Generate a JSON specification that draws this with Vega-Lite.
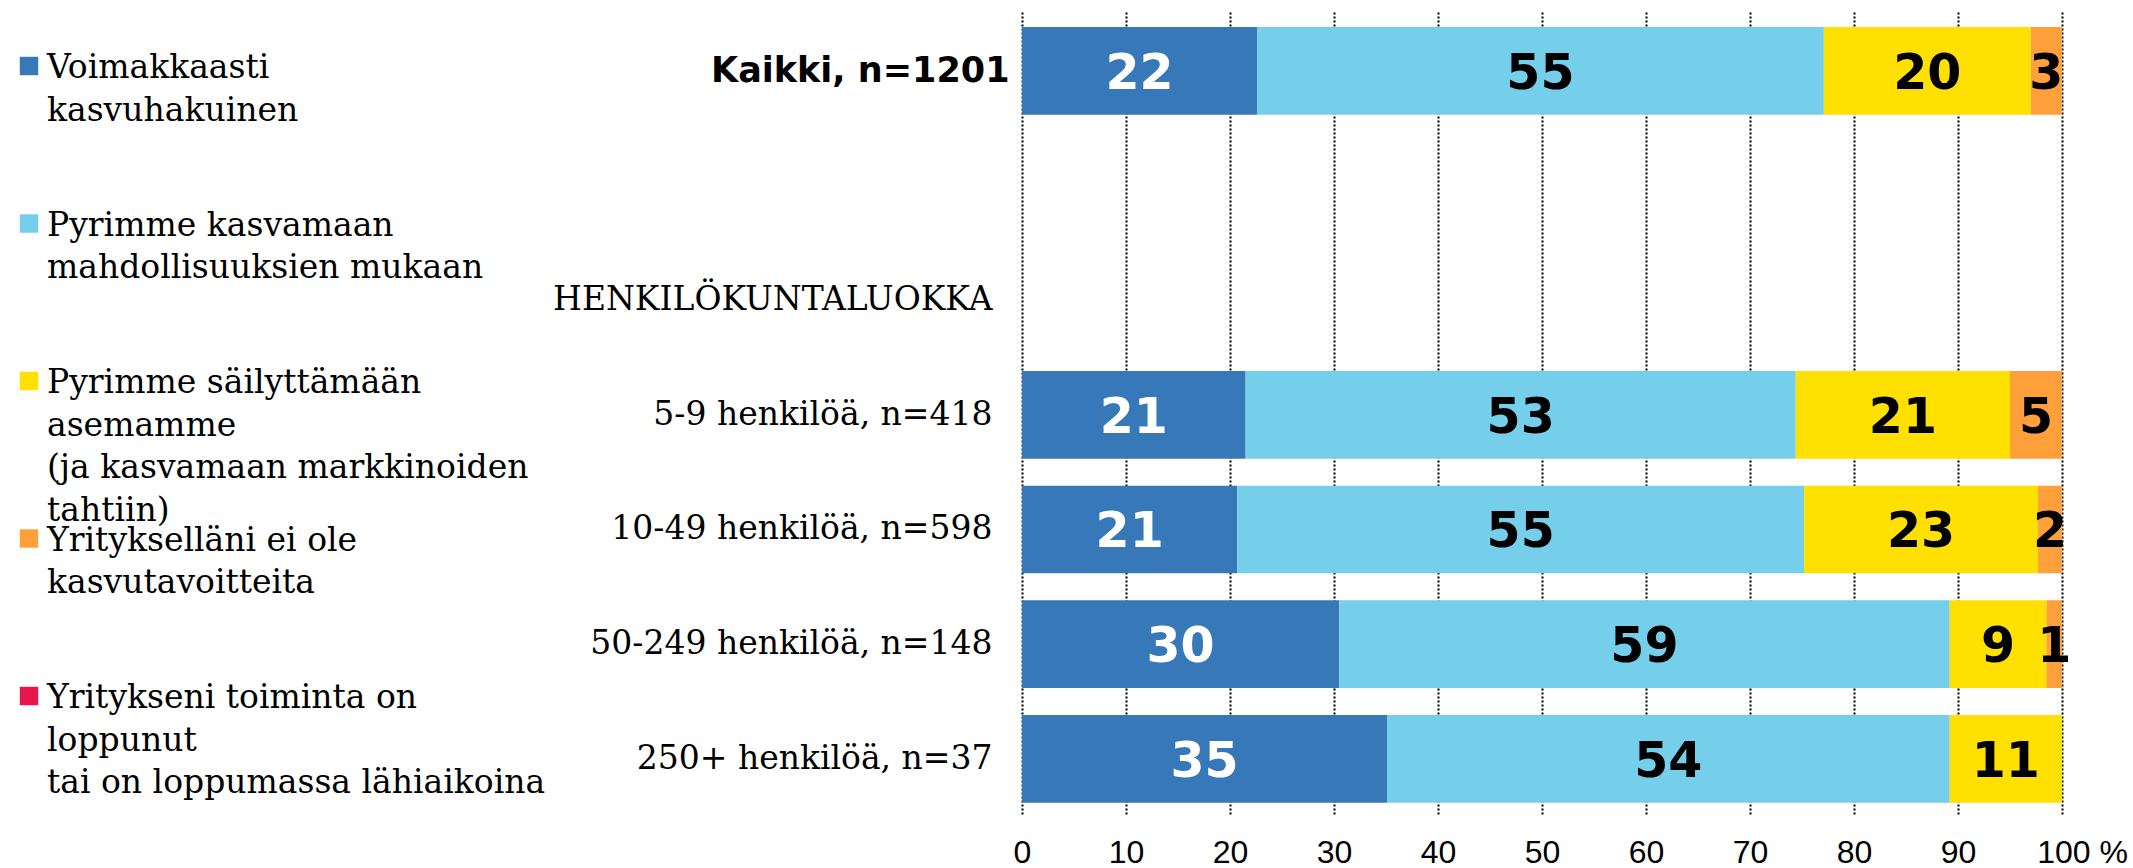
{
  "$schema": "https://vega.github.io/schema/vega-lite/v6.json",
  "padding": {"left": 0, "top": 12, "right": 0, "bottom": 0},
  "background": "white",
  "config": {"view": {"stroke": null}},
  "bounds": "flush",
  "spacing": 964,
  "resolve": {"scale": {"x": "independent", "y": "independent", "color": "independent"}},
  "datasets": {
    "legend": [
      {"series": "Voimakkaasti kasvuhakuinen", "label": "Voimakkaasti|kasvuhakuinen"},
      {"series": "Pyrimme kasvamaan mahdollisuuksien mukaan", "label": "Pyrimme kasvamaan|mahdollisuuksien mukaan"},
      {"series": "Pyrimme säilyttämään asemamme (ja kasvamaan markkinoiden tahtiin)", "label": "Pyrimme säilyttämään|asemamme|(ja kasvamaan markkinoiden|tahtiin)"},
      {"series": "Yritykselläni ei ole kasvutavoitteita", "label": "Yritykselläni ei ole|kasvutavoitteita"},
      {"series": "Yritykseni toiminta on loppunut tai on loppumassa lähiaikoina", "label": "Yritykseni toiminta on|loppunut|tai on loppumassa lähiaikoina"}
    ],
    "bars": [
      {"cat": "Kaikki, n=1201", "series": "Voimakkaasti kasvuhakuinen", "k": 1, "value": 22.6, "label": "22"},
      {"cat": "Kaikki, n=1201", "series": "Pyrimme kasvamaan mahdollisuuksien mukaan", "k": 2, "value": 54.5, "label": "55"},
      {"cat": "Kaikki, n=1201", "series": "Pyrimme säilyttämään asemamme (ja kasvamaan markkinoiden tahtiin)", "k": 3, "value": 19.9, "label": "20"},
      {"cat": "Kaikki, n=1201", "series": "Yritykselläni ei ole kasvutavoitteita", "k": 4, "value": 3.0, "label": "3"},
      {"cat": "5-9 henkilöä, n=418", "series": "Voimakkaasti kasvuhakuinen", "k": 1, "value": 21.5, "label": "21"},
      {"cat": "5-9 henkilöä, n=418", "series": "Pyrimme kasvamaan mahdollisuuksien mukaan", "k": 2, "value": 52.9, "label": "53"},
      {"cat": "5-9 henkilöä, n=418", "series": "Pyrimme säilyttämään asemamme (ja kasvamaan markkinoiden tahtiin)", "k": 3, "value": 20.6, "label": "21"},
      {"cat": "5-9 henkilöä, n=418", "series": "Yritykselläni ei ole kasvutavoitteita", "k": 4, "value": 5.0, "label": "5"},
      {"cat": "10-49 henkilöä, n=598", "series": "Voimakkaasti kasvuhakuinen", "k": 1, "value": 20.7, "label": "21"},
      {"cat": "10-49 henkilöä, n=598", "series": "Pyrimme kasvamaan mahdollisuuksien mukaan", "k": 2, "value": 54.5, "label": "55"},
      {"cat": "10-49 henkilöä, n=598", "series": "Pyrimme säilyttämään asemamme (ja kasvamaan markkinoiden tahtiin)", "k": 3, "value": 22.5, "label": "23"},
      {"cat": "10-49 henkilöä, n=598", "series": "Yritykselläni ei ole kasvutavoitteita", "k": 4, "value": 2.3, "label": "2"},
      {"cat": "50-249 henkilöä, n=148", "series": "Voimakkaasti kasvuhakuinen", "k": 1, "value": 30.5, "label": "30"},
      {"cat": "50-249 henkilöä, n=148", "series": "Pyrimme kasvamaan mahdollisuuksien mukaan", "k": 2, "value": 58.7, "label": "59"},
      {"cat": "50-249 henkilöä, n=148", "series": "Pyrimme säilyttämään asemamme (ja kasvamaan markkinoiden tahtiin)", "k": 3, "value": 9.3, "label": "9"},
      {"cat": "50-249 henkilöä, n=148", "series": "Yritykselläni ei ole kasvutavoitteita", "k": 4, "value": 1.5, "label": "1"},
      {"cat": "250+ henkilöä, n=37", "series": "Voimakkaasti kasvuhakuinen", "k": 1, "value": 35.1, "label": "35"},
      {"cat": "250+ henkilöä, n=37", "series": "Pyrimme kasvamaan mahdollisuuksien mukaan", "k": 2, "value": 54.1, "label": "54"},
      {"cat": "250+ henkilöä, n=37", "series": "Pyrimme säilyttämään asemamme (ja kasvamaan markkinoiden tahtiin)", "k": 3, "value": 10.8, "label": "11"}
    ]
  },
  "hconcat": [
    {
      "width": 58,
      "height": 802,
      "data": {"name": "legend"},
      "encoding": {
        "y": {
          "field": "series",
          "type": "nominal",
          "scale": {
            "type": "point",
            "domain": [
              "Voimakkaasti kasvuhakuinen",
              "Pyrimme kasvamaan mahdollisuuksien mukaan",
              "Pyrimme säilyttämään asemamme (ja kasvamaan markkinoiden tahtiin)",
              "Yritykselläni ei ole kasvutavoitteita",
              "Yritykseni toiminta on loppunut tai on loppumassa lähiaikoina"
            ],
            "padding": 0.546,
            "align": 0.314
          },
          "axis": null
        }
      },
      "layer": [
        {
          "mark": {"type": "square", "size": 340, "filled": true, "opacity": 1},
          "encoding": {
            "color": {
              "field": "series",
              "type": "nominal",
              "scale": {
                "domain": [
                  "Voimakkaasti kasvuhakuinen",
                  "Pyrimme kasvamaan mahdollisuuksien mukaan",
                  "Pyrimme säilyttämään asemamme (ja kasvamaan markkinoiden tahtiin)",
                  "Yritykselläni ei ole kasvutavoitteita",
                  "Yritykseni toiminta on loppunut tai on loppumassa lähiaikoina"
                ],
                "range": ["#3779B8", "#75CEEA", "#FFE000", "#FFA03A", "#E8154F"]
              },
              "legend": null
            }
          }
        },
        {
          "mark": {"type": "text", "align": "left", "baseline": "alphabetic", "dx": 18, "dy": 12, "lineBreak": "|", "lineHeight": 42.5, "font": "DejaVu Serif", "fontSize": 33, "color": "black"},
          "encoding": {"text": {"field": "label", "type": "nominal"}}
        }
      ]
    },
    {
      "width": 1040,
      "height": 802,
      "data": {"name": "bars"},
      "encoding": {
        "y": {
          "field": "cat",
          "type": "nominal",
          "scale": {
            "domain": ["Kaikki, n=1201", " ", "HENKILÖKUNTALUOKKA", "5-9 henkilöä, n=418", "10-49 henkilöä, n=598", "50-249 henkilöä, n=148", "250+ henkilöä, n=37"],
            "paddingInner": 0.235,
            "paddingOuter": 0.115,
            "align": 0.57
          },
          "axis": {
            "title": null,
            "domain": false,
            "ticks": false,
            "tickSize": 0,
            "grid": false,
            "labelLimit": 1000,
            "labelColor": "black",
            "labelFont": {"condition": {"test": "datum.value == 'Kaikki, n=1201'", "value": "DejaVu Sans"}, "value": "DejaVu Serif"},
            "labelFontWeight": {"condition": {"test": "datum.value == 'Kaikki, n=1201'", "value": "bold"}, "value": "normal"},
            "labelFontSize": {"condition": {"test": "datum.value == 'Kaikki, n=1201'", "value": 35}, "value": 33},
            "labelPadding": {"condition": {"test": "datum.value == 'Kaikki, n=1201'", "value": 13}, "value": 30}
          }
        },
        "x": {
          "field": "value",
          "type": "quantitative",
          "stack": "zero",
          "scale": {"domain": [0, 100], "nice": false},
          "axis": {
            "title": null,
            "values": [0, 10, 20, 30, 40, 50, 60, 70, 80, 90, 100],
            "domain": false,
            "ticks": false,
            "tickSize": 0,
            "grid": true,
            "gridColor": "black",
            "gridDash": [2, 2],
            "gridWidth": 2,
            "gridOpacity": 1,
            "labelFont": "Liberation Sans",
            "labelFontSize": 32,
            "labelColor": "black",
            "labelPadding": 23,
            "labelFlush": false,
            "labelOverlap": false,
            "labelExpr": "datum.value == 100 ? '100 %' : datum.label",
            "labelOffset": {"condition": {"test": "datum.value == 100", "value": 20}, "value": 0}
          }
        },
        "order": {"field": "k", "type": "quantitative"}
      },
      "layer": [
        {
          "mark": {"type": "bar"},
          "encoding": {
            "color": {
              "field": "series",
              "type": "nominal",
              "scale": {
                "domain": [
                  "Voimakkaasti kasvuhakuinen",
                  "Pyrimme kasvamaan mahdollisuuksien mukaan",
                  "Pyrimme säilyttämään asemamme (ja kasvamaan markkinoiden tahtiin)",
                  "Yritykselläni ei ole kasvutavoitteita",
                  "Yritykseni toiminta on loppunut tai on loppumassa lähiaikoina"
                ],
                "range": ["#3779B8", "#75CEEA", "#FFE000", "#FFA03A", "#E8154F"]
              },
              "legend": null
            }
          }
        },
        {
          "mark": {"type": "text", "align": "center", "baseline": "middle", "dy": 3, "font": "DejaVu Sans", "fontWeight": "bold", "fontSize": 49},
          "encoding": {
            "x": {"field": "value", "type": "quantitative", "stack": "zero", "bandPosition": 0.5},
            "detail": {"field": "series", "type": "nominal"},
            "text": {"field": "label", "type": "nominal"},
            "color": {"condition": {"test": "datum.k == 1", "value": "white"}, "value": "black"}
          }
        }
      ]
    }
  ]
}
